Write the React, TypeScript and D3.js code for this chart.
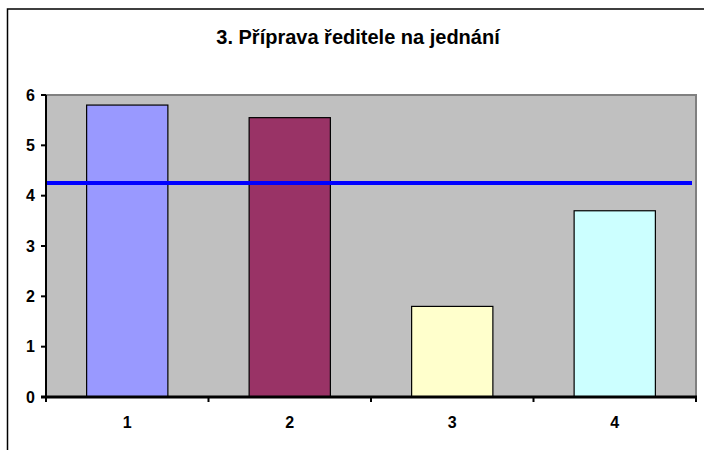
import * as d3 from 'd3';

const categories = ['1', '2', '3', '4'];
const values = [5.8, 5.55, 1.8, 3.7];
const barColours = ['#9999FF', '#993366', '#FFFFCC', '#CCFFFF'];
const averageValue = 4.25;
const yTicks = [0, 1, 2, 3, 4, 5, 6];
const title = '3. Příprava ředitele na jednání';

export default function App(): JSX.Element {
  const width = 704;
  const height = 450;
  const margin = { top: 95, right: 8, bottom: 53, left: 46 };

  const x = d3.scaleBand<string>()
    .domain(categories)
    .range([margin.left, width - margin.right])
    .paddingInner(0.5)
    .paddingOuter(0.25);

  const band = d3.scaleBand<string>()
    .domain(categories)
    .range([margin.left, width - margin.right]);

  const y = d3.scaleLinear()
    .domain([0, 6])
    .range([height - margin.bottom, margin.top]);

  const font = 'Arial, "Liberation Sans", sans-serif';
  const plotRight = width - margin.right;
  const plotBottom = height - margin.bottom;

  return (
    <div style={{ position: 'absolute', left: 0, top: 0 }}>
      <svg width={width} height={height} style={{ display: 'block' }}>
        <rect width={width} height={height} fill="white" />
        {/* outer chart border */}
        <rect x={7.5} y={9} width={width + 10} height={height + 10} fill="none" stroke="black" strokeWidth={1.5} />

        <text
          x={358}
          y={44}
          textAnchor="middle"
          style={{ fontFamily: font, fontSize: '20px', fontWeight: 'bold' }}
        >
          {title}
        </text>

        {/* plot area */}
        <rect
          x={margin.left}
          y={margin.top}
          width={plotRight - margin.left}
          height={plotBottom - margin.top}
          fill="#C0C0C0"
          stroke="#808080"
          strokeWidth={2}
        />

        {categories.map((c, i) => (
          <rect
            key={c}
            x={x(c)}
            y={y(values[i])}
            width={x.bandwidth()}
            height={plotBottom - y(values[i])}
            fill={barColours[i]}
            stroke="black"
            strokeWidth={1.2}
          />
        ))}

        {/* average line */}
        <line
          x1={margin.left}
          x2={plotRight - 4}
          y1={y(averageValue)}
          y2={y(averageValue)}
          stroke="#0000FF"
          strokeWidth={4}
        />

        {/* y axis */}
        <g style={{ fontFamily: font, fontSize: '16px', fontWeight: 'bold' }}>
          <line x1={margin.left} x2={margin.left} y1={margin.top} y2={plotBottom + 1} stroke="black" strokeWidth={2} />
          {yTicks.map(t => (
            <g key={t} transform={`translate(${margin.left},${y(t)})`}>
              <line x1={-5} x2={0} stroke="black" strokeWidth={2} />
              <text x={-11} dy="0.36em" textAnchor="end">{t}</text>
            </g>
          ))}
        </g>

        {/* x axis */}
        <g style={{ fontFamily: font, fontSize: '16px', fontWeight: 'bold' }}>
          <line x1={margin.left - 5} x2={plotRight + 1} y1={plotBottom} y2={plotBottom} stroke="black" strokeWidth={3} />
          {categories.map(c => (
            <g key={c}>
              <line
                x1={(band(c) ?? 0) + band.bandwidth()}
                x2={(band(c) ?? 0) + band.bandwidth()}
                y1={plotBottom}
                y2={plotBottom + 5}
                stroke="black"
                strokeWidth={2}
              />
              <text
                x={(x(c) ?? 0) + x.bandwidth() / 2}
                y={plotBottom + 31}
                textAnchor="middle"
              >
                {c}
              </text>
            </g>
          ))}
          <line x1={margin.left} x2={margin.left} y1={plotBottom} y2={plotBottom + 5} stroke="black" strokeWidth={2} />
        </g>
      </svg>
    </div>
  );
}
